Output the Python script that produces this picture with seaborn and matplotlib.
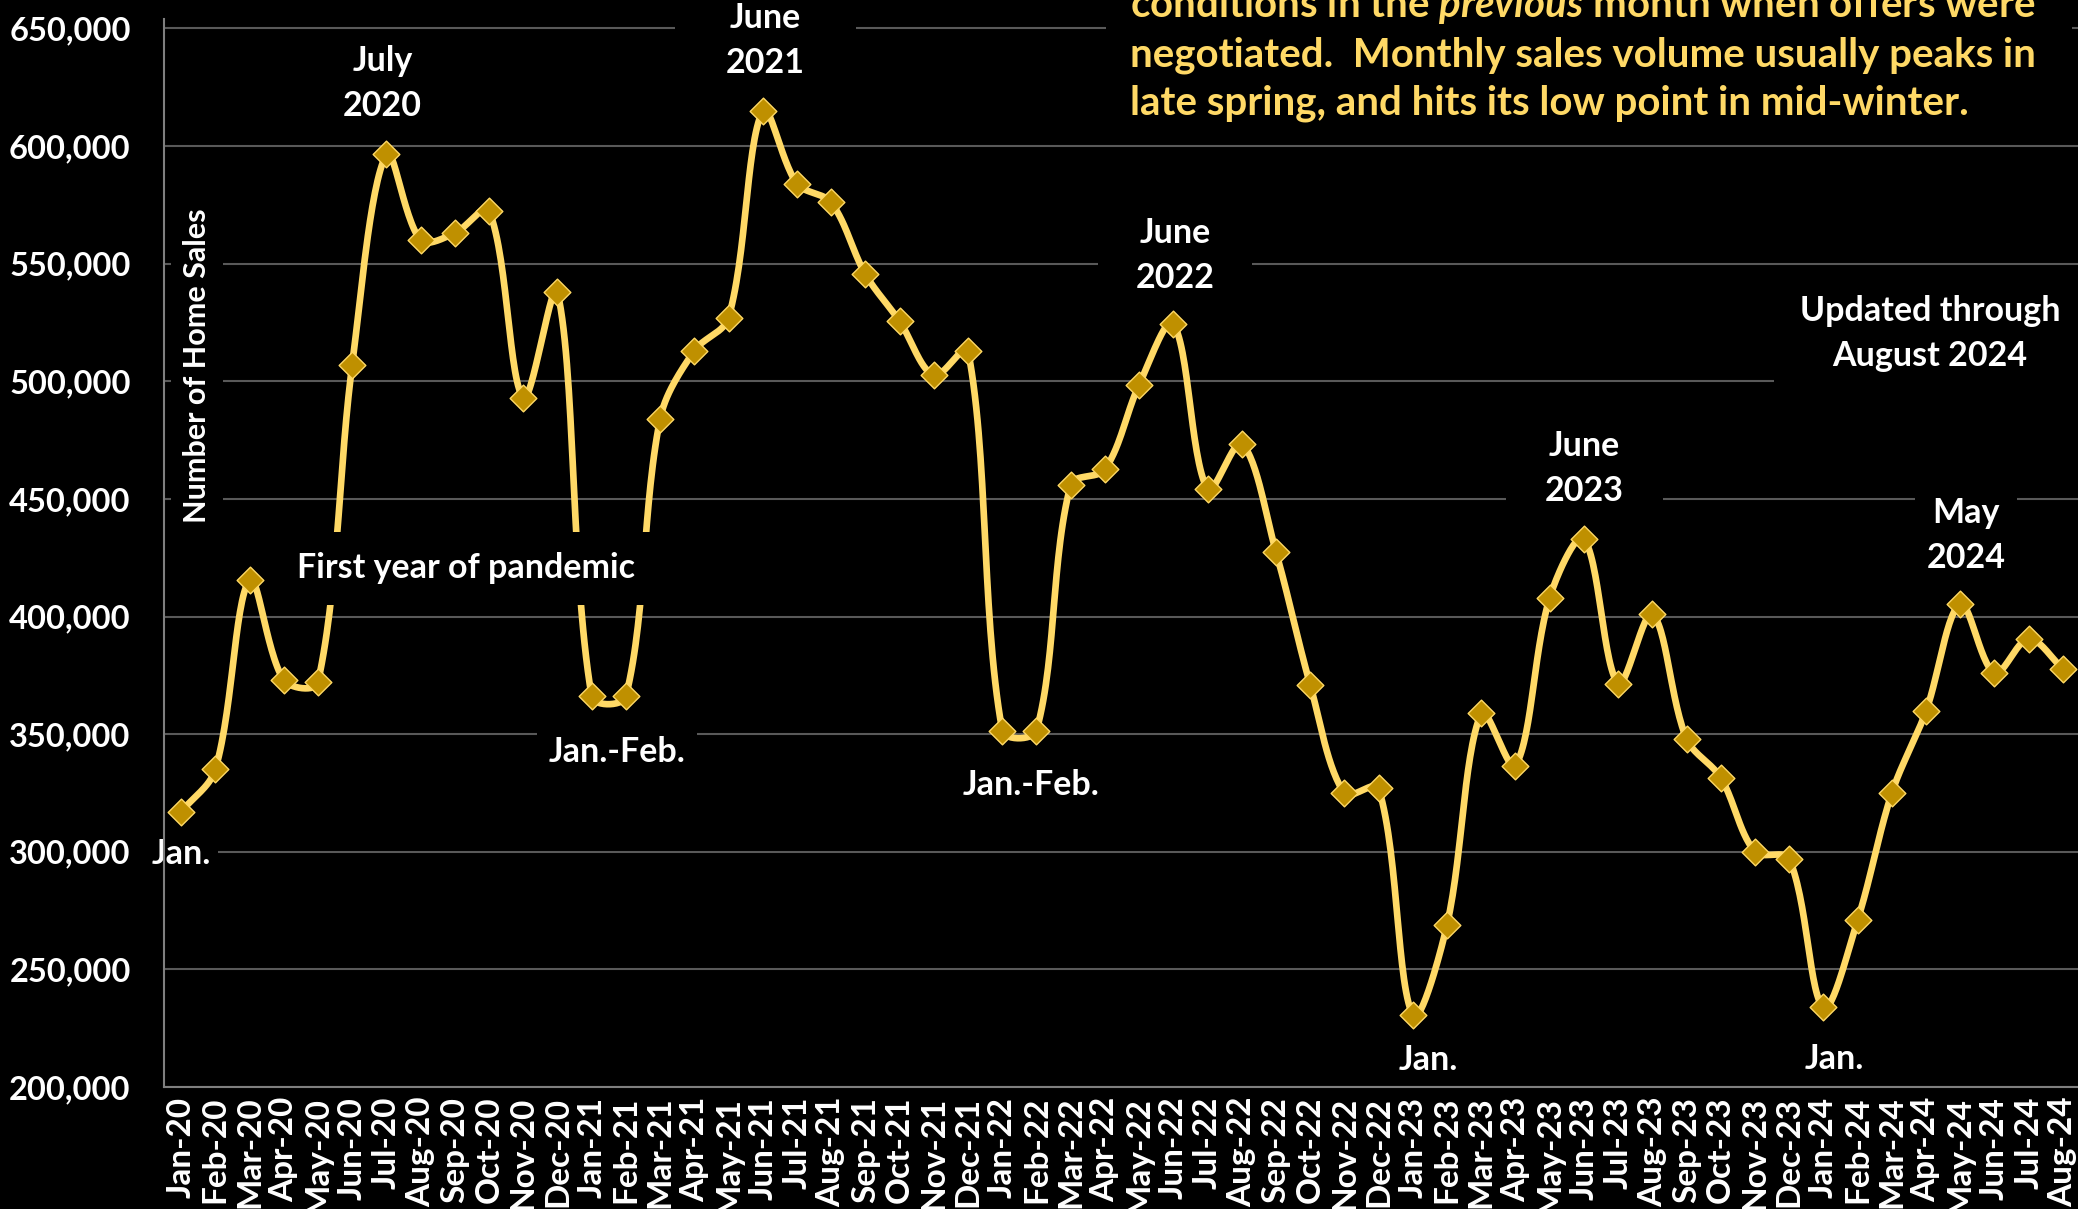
import numpy as np
import pandas as pd
import matplotlib
matplotlib.use("Agg")
import matplotlib.pyplot as plt
import seaborn as sns
from matplotlib.patches import Rectangle

# Monthly home sales, Jan 2020 - Aug 2024
months = ["Jan-20", "Feb-20", "Mar-20", "Apr-20", "May-20", "Jun-20", "Jul-20", "Aug-20",
          "Sep-20", "Oct-20", "Nov-20", "Dec-20",
          "Jan-21", "Feb-21", "Mar-21", "Apr-21", "May-21", "Jun-21", "Jul-21", "Aug-21",
          "Sep-21", "Oct-21", "Nov-21", "Dec-21",
          "Jan-22", "Feb-22", "Mar-22", "Apr-22", "May-22", "Jun-22", "Jul-22", "Aug-22",
          "Sep-22", "Oct-22", "Nov-22", "Dec-22",
          "Jan-23", "Feb-23", "Mar-23", "Apr-23", "May-23", "Jun-23", "Jul-23", "Aug-23",
          "Sep-23", "Oct-23", "Nov-23", "Dec-23",
          "Jan-24", "Feb-24", "Mar-24", "Apr-24", "May-24", "Jun-24", "Jul-24", "Aug-24"]

sales = [317000, 335000, 415500, 373000, 372000, 507000, 596500, 560000,
         563000, 572500, 493000, 538000,
         366000, 366000, 484000, 513000, 527000, 615000, 584000, 576000,
         545500, 525500, 502500, 513000,
         351500, 351500, 456000, 462500, 498500, 524500, 454000, 473500,
         427500, 371000, 324800, 327000,
         230500, 269000, 359000, 336500, 408000, 433000, 371500, 401000,
         348000, 331500, 300000, 297000,
         233800, 271000, 325000, 359800, 405300, 376000, 390500, 377800]

y_ticks = [200000, 250000, 300000, 350000, 400000, 450000, 500000, 550000, 600000, 650000]

# callout text, month index, value
callouts = [
    ("Jan.", 0.0, 299000),
    ("July\n2020", 5.89, 626500),
    ("June\n2021", 17.08, 645000),
    ("Jan.-Feb.", 12.74, 342500),
    ("June\n2022", 29.05, 553500),
    ("Jan.-Feb.", 24.83, 328500),
    ("June\n2023", 41.01, 463000),
    ("May\n2024", 52.17, 434500),
    ("Jan.", 36.44, 211500),
    ("Jan.", 48.33, 212000),
    ("Updated through\nAugust 2024", 51.12, 520500),
]

note_lines = [
    r"conditions in the $\mathit{previous}$ month when offers were",
    "negotiated.  Monthly sales volume usually peaks in",
    "late spring, and hits its low point in mid-winter.",
]

LINE = "#FFD966"
MARK = "#BF9000"
GRID = "#595959"
BG = "#000000"

# padding (in font-size units) of the black box behind each callout
callout_pad = {"June\n2021": 1.5, "June\n2022": 1.1, "June\n2023": 1.15,
               "Updated through\nAugust 2024": 0.75, "Jan.": 0.2}

sns.set_theme(style="dark")
plt.rcParams["font.family"] = ["Lato", "DejaVu Sans"]
plt.rcParams["font.weight"] = "bold"
plt.rcParams["mathtext.fontset"] = "custom"
plt.rcParams["mathtext.rm"] = "Lato:bold"
plt.rcParams["mathtext.it"] = "Lato:italic:bold"
plt.rcParams["mathtext.bf"] = "Lato:bold"

W, H, DPI = 2078, 1209, 100
AX_LEFT, AX_RIGHT = 164, 2080
AX_TOP, AX_BOTTOM = 19, 1087
X_LIM = (-0.5, len(months) - 0.5)
Y_LIM = (200000, 654000)


def smooth_curve(xs, ys, steps=30):
    """Excel-style smoothed line: cubic Bezier segments whose control arms are
    scaled by the on-screen lengths of the neighbouring segments."""
    sx = (AX_RIGHT - AX_LEFT) / (X_LIM[1] - X_LIM[0])
    sy = (AX_BOTTOM - AX_TOP) / (Y_LIM[1] - Y_LIM[0])
    p = np.column_stack([np.asarray(xs, float) * sx, np.asarray(ys, float) * sy])
    n = len(p)
    t = np.linspace(0, 1, steps, endpoint=False)[:, None]
    pieces = []
    for i in range(n - 1):
        p0 = p[i - 1] if i > 0 else p[i]
        p1, p2 = p[i], p[i + 1]
        p3 = p[i + 2] if i + 2 < n else p[i + 1]
        d01 = np.linalg.norm(p1 - p0)
        d12 = np.linalg.norm(p2 - p1)
        d23 = np.linalg.norm(p3 - p2)
        c1 = p1 + (p2 - p0) * (d12 / (d01 + d12)) / 3.0
        c2 = p2 - (p3 - p1) * (d12 / (d12 + d23)) / 3.0
        seg = ((1 - t) ** 3 * p1 + 3 * (1 - t) ** 2 * t * c1
               + 3 * (1 - t) * t ** 2 * c2 + t ** 3 * p2)
        pieces.append(seg)
    pieces.append(p[-1][None, :])
    pts = np.vstack(pieces)
    return pts[:, 0] / sx, pts[:, 1] / sy


fig = plt.figure(figsize=(W / DPI, H / DPI), dpi=DPI, facecolor=BG)
ax = fig.add_axes([AX_LEFT / W, 1 - AX_BOTTOM / H, (AX_RIGHT - AX_LEFT) / W,
                   (AX_BOTTOM - AX_TOP) / H])
ax.set_facecolor(BG)
ax.set_axisbelow(True)

idx = np.arange(len(months))
df = pd.DataFrame({"idx": idx, "sales": sales})
cx, cy = smooth_curve(df["idx"], df["sales"])
curve = pd.DataFrame({"x": cx, "y": cy})

sns.lineplot(data=curve, x="x", y="y", sort=False, estimator=None, ax=ax,
             color=LINE, linewidth=4.8, zorder=3)
sns.scatterplot(data=df, x="idx", y="sales", ax=ax, marker="D", s=185,
                color=MARK, edgecolor=LINE, linewidth=1.0, zorder=4)

ax.set_xlim(*X_LIM)
ax.set_ylim(*Y_LIM)
ax.set_yticks(y_ticks)
ax.set_yticklabels([f"{v:,}" for v in y_ticks])
ax.set_xticks(idx)
ax.set_xticklabels(months, rotation=90, va="top", ha="center")
ax.tick_params(axis="y", length=0, pad=24, labelsize=23.5, labelcolor="white")
ax.tick_params(axis="x", length=0, pad=7, labelsize=24, labelcolor="white")
for lab in ax.get_xticklabels() + ax.get_yticklabels():
    lab.set_fontweight("bold")

ax.grid(axis="y", color=GRID, linewidth=1.5)
ax.grid(axis="x", visible=False)
for side in ("top", "right"):
    ax.spines[side].set_visible(False)
for side in ("left", "bottom"):
    ax.spines[side].set_color("#7F7F7F")
    ax.spines[side].set_linewidth(1.5)

ax.set_xlabel("")
ax.set_ylabel("")
ax.text(0.47, 506500, "Number of Home Sales", rotation=90, ha="center", va="center",
        color="white", fontsize=22, fontweight="bold", zorder=2,
        bbox=dict(boxstyle="square,pad=0.4", facecolor=BG, edgecolor="none"))

# pandemic label, boxed so the curve breaks around it
ax.text(8.33, 420500, "First year of pandemic", ha="center", va="center",
        color="white", fontsize=24.5, fontweight="bold", zorder=6,
        bbox=dict(boxstyle="square,pad=0.6", facecolor=BG, edgecolor="none"))

for text, xv, yv in callouts:
    pad = callout_pad.get(text, 0.35)
    ax.text(xv, yv, text, ha="center", va="center", color="white", fontsize=24.5,
            fontweight="bold", linespacing=1.5, zorder=2, clip_on=False,
            bbox=dict(boxstyle=f"square,pad={pad}", facecolor=BG, edgecolor="none"))

# explanatory note in the upper right
fig.add_artist(Rectangle((1106 / W, 1 - 126 / H), (2072 - 1106) / W, 126 / H,
                         transform=fig.transFigure, facecolor=BG, edgecolor="none",
                         zorder=5))
baselines = [17, 66, 114]
for line, base in zip(note_lines, baselines):
    fig.text(1130 / W, 1 - base / H, line, ha="left", va="baseline", color=LINE,
             fontsize=29, fontweight="bold", zorder=7)

fig.savefig("out.png", dpi=DPI, facecolor=BG)
